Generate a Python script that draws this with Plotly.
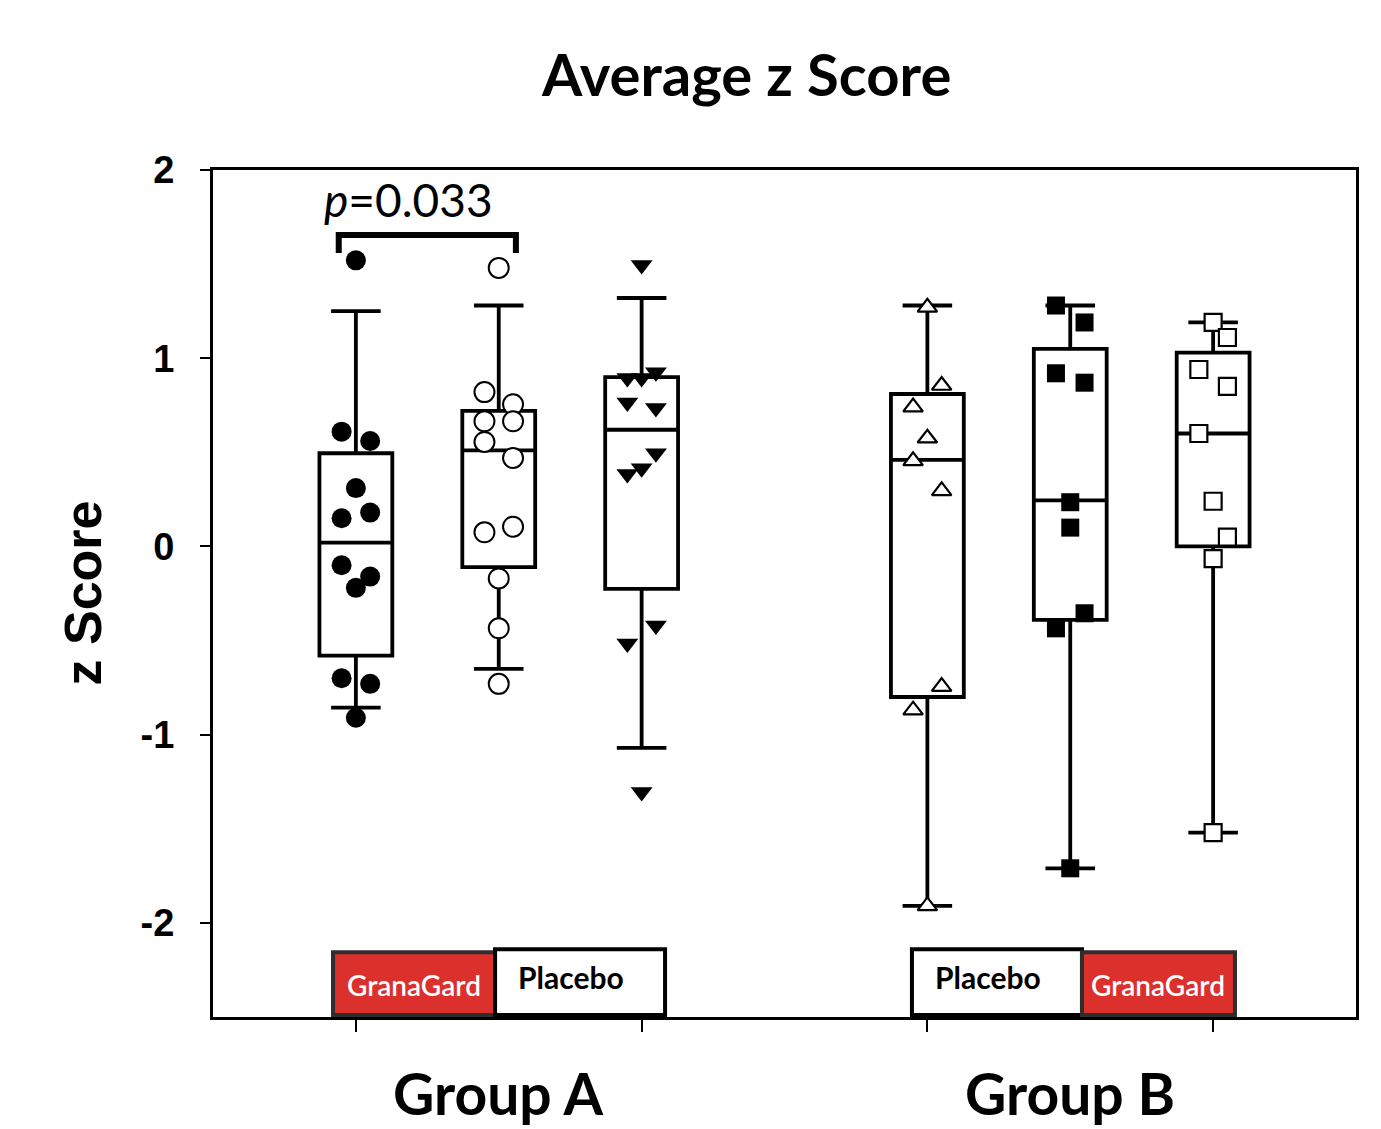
import plotly.graph_objects as go

# ---------------- data ----------------
positions = [1, 2, 3, 5, 6, 7]
box_q1 = [-0.58, -0.11, -0.225, -0.80, -0.39, 0.0]
box_median = [0.02, 0.51, 0.62, 0.46, 0.245, 0.60]
box_q3 = [0.495, 0.72, 0.90, 0.81, 1.05, 1.03]
box_lower = [-0.856, -0.65, -1.07, -1.91, -1.71, -1.52]
box_upper = [1.25, 1.28, 1.32, 1.28, 1.28, 1.19]

a_granagard = [1.52, 0.61, 0.56, 0.31, 0.15, 0.18, -0.10, -0.16, -0.22, -0.70, -0.73, -0.91]
a_granagard_side = [0, -1, 1, 0, -1, 1, -1, 1, 0, -1, 1, 0]

a_placebo = [1.48, 0.82, 0.755, 0.665, 0.665, 0.555, 0.47, 0.075, 0.105, -0.17, -0.435, -0.73]
a_placebo_side = [0, -1, 1, -1, 1, -1, 1, -1, 1, 0, 0, 0]

a_third = [1.495, 0.895, 0.895, 0.925, 0.765, 0.735, 0.495, 0.415, 0.385, -0.42, -0.515, -1.305]
a_third_side = [0, -1, 0, 1, -1, 1, 1, 0, -1, 1, -1, 0]

b_placebo = [1.27, 0.855, 0.74, 0.575, 0.455, 0.295, -0.745, -0.87, -1.91]
b_placebo_side = [0, 1, -1, 0, -1, 1, 1, -1, 0]

b_granagard = [1.28, 1.19, 0.92, 0.87, 0.235, 0.10, -0.355, -0.435, -1.71]
b_granagard_side = [-1, 1, -1, 1, 0, 0, 1, -1, 0]

b_third = [1.19, 1.11, 0.94, 0.85, 0.60, 0.24, 0.05, -0.065, -1.52]
b_third_side = [0, 1, -1, 1, -1, 0, 1, 0, 0]

y_ticks = [-2, -1, 0, 1, 2]
x_ticks = [1, 3, 5, 7]
group_labels = ["Group A", "Group B"]
group_centers = [2, 6]
p_text = "<i>p</i>=0.033"

# ---------------- styling ----------------
SPREAD = 0.1
CAL = "Lato, 'Open Sans', sans-serif"
ARIAL = "'Liberation Sans', Arial, sans-serif"

fig = go.Figure()

for i, p in enumerate(positions):
    fig.add_trace(go.Box(
        x=[p], q1=[box_q1[i]], median=[box_median[i]], q3=[box_q3[i]],
        lowerfence=[box_lower[i]], upperfence=[box_upper[i]],
        width=0.51, whiskerwidth=0.68, boxpoints=False,
        fillcolor="white", line=dict(color="black", width=3.8),
        showlegend=False, hoverinfo="skip"))

series = [
    (a_granagard, a_granagard_side, 1, dict(symbol="circle", size=20, color="black", line=dict(width=0))),
    (a_placebo, a_placebo_side, 2, dict(symbol="circle", size=20, color="white", line=dict(color="black", width=2))),
    (a_third, a_third_side, 3, dict(symbol="triangle-down", size=19, color="black", line=dict(width=0))),
    (b_placebo, b_placebo_side, 5, dict(symbol="triangle-up", size=17, color="white", line=dict(color="black", width=2.2))),
    (b_granagard, b_granagard_side, 6, dict(symbol="square", size=18, color="black", line=dict(width=0))),
    (b_third, b_third_side, 7, dict(symbol="square", size=17, color="white", line=dict(color="black", width=2.2))),
]
for vals, sides, pos, mk in series:
    fig.add_trace(go.Scatter(
        x=[pos + s * SPREAD for s in sides], y=vals, mode="markers",
        marker=mk, showlegend=False, hoverinfo="skip", cliponaxis=False))

# significance bracket between positions 1 and 2
bx0, bx1, by, bdrop = positions[0] - 0.12, positions[1] + 0.12, 1.654, 0.095
fig.add_shape(type="path",
              path=f"M {bx0},{by - bdrop} L {bx0},{by} L {bx1},{by} L {bx1},{by - bdrop}",
              line=dict(color="black", width=6), xref="x", yref="y")
fig.add_annotation(x=1.37, y=1.845, text=p_text, showarrow=False,
                   font=dict(family=CAL, size=46, color="black"), xanchor="center", yanchor="middle")

# treatment label boxes at the bottom
labels = [
    ("GranaGard", 0.84, 1.974, "red"),
    ("Placebo", 1.974, 3.164, "white"),
    ("Placebo", 4.892, 6.082, "white"),
    ("GranaGard", 6.082, 7.153, "red"),
]
for text, x0, x1, kind in labels:
    if kind == "red":
        fig.add_shape(type="rect", x0=x0, x1=x1, y0=-2.49, y1=-2.156,
                      fillcolor="#db302b", line=dict(color="#2e2e2e", width=4), layer="above")
        fig.add_annotation(x=(x0 + x1) / 2, y=-2.33, text=text, showarrow=False,
                           font=dict(family=CAL, size=28, color="white", weight=600),
                           xanchor="center", yanchor="middle")
    else:
        fig.add_shape(type="rect", x0=x0, x1=x1, y0=-2.49, y1=-2.14,
                      fillcolor="white", line=dict(color="black", width=4), layer="above")
        fig.add_annotation(x=(x0 + x1) / 2 - 0.06, y=-2.29, text=f"<b>{text}</b>", showarrow=False,
                           font=dict(family=CAL, size=30, color="black"), xanchor="center", yanchor="middle")

# group labels
for lab, c in zip(group_labels, group_centers):
    fig.add_annotation(x=c, y=0, yref="paper", yshift=-76, text=f"<b>{lab}</b>", showarrow=False,
                       font=dict(family=CAL, size=57, color="black"), xanchor="center", yanchor="middle")

# title
fig.add_annotation(x=(746 - 213) / 1143, xref="paper", y=1, yref="paper", yshift=97,
                   text="<b>Average z Score</b>", showarrow=False,
                   font=dict(family=CAL, size=58, color="black"), xanchor="center", yanchor="middle")

# y axis title
fig.add_annotation(x=0, xref="paper", xshift=-131, y=0.5, yref="paper", text="<b>z Score</b>",
                   textangle=-90, showarrow=False,
                   font=dict(family=ARIAL, size=52, color="black"), xanchor="center", yanchor="middle")

fig.update_layout(
    width=1381, height=1129,
    margin=dict(l=213, r=25, t=170, b=112),
    paper_bgcolor="white", plot_bgcolor="white",
    xaxis=dict(range=[0, 8], tickvals=x_ticks, ticktext=["" for _ in x_ticks],
               ticks="outside", ticklen=12, tickwidth=2, tickcolor="black",
               showline=True, linewidth=3, linecolor="black", mirror=True,
               showgrid=False, zeroline=False, fixedrange=True),
    yaxis=dict(range=[-2.5, 2], tickvals=y_ticks, ticktext=[str(v) for v in y_ticks],
               ticks="outside", ticklen=10, tickwidth=2, tickcolor="black",
               tickfont=dict(family=ARIAL, size=38, color="black", weight="bold"),
               ticklabelstandoff=18,
               showline=True, linewidth=3, linecolor="black", mirror=True,
               showgrid=False, zeroline=False, fixedrange=True),
    boxmode="overlay",
)

fig.write_html("out.html")
